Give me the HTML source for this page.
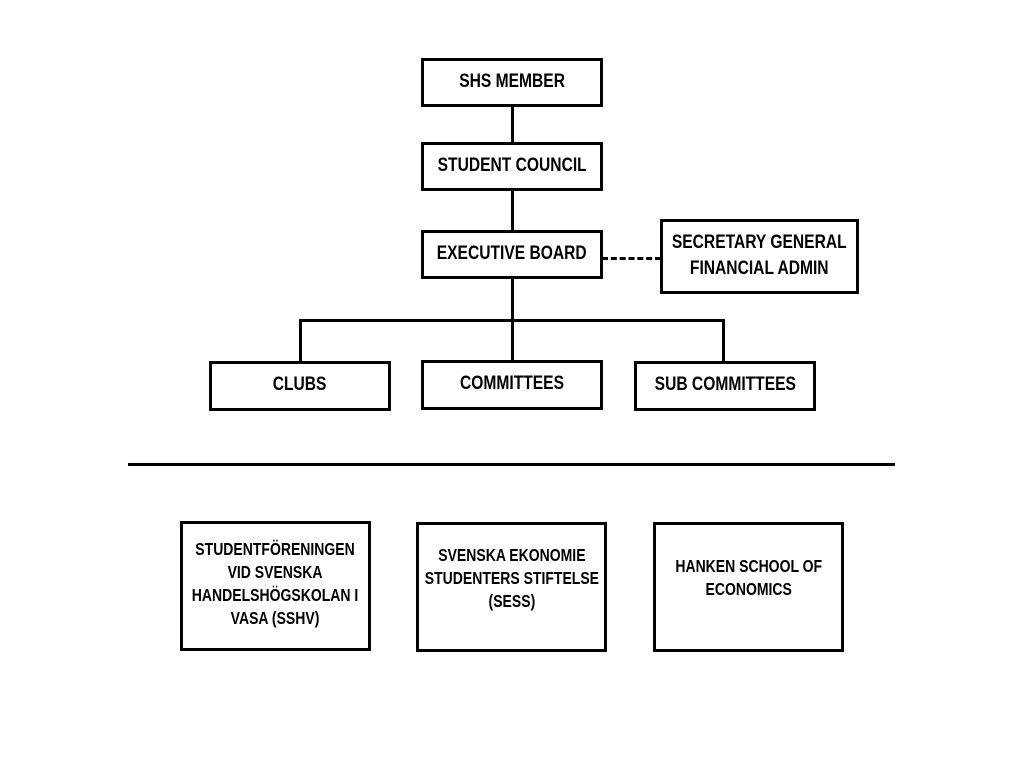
<!DOCTYPE html>
<html><head><meta charset="utf-8"><style>
body{margin:0;background:#fff;width:1024px;height:768px;position:relative;overflow:hidden;font-family:"Liberation Sans",sans-serif;font-weight:bold;color:#000}
.b{position:absolute;box-sizing:border-box;border:3px solid #000;background:#fff;display:flex;align-items:center;justify-content:center;text-align:center;font-size:19.5px;line-height:26px}
.b span{display:inline-block;white-space:nowrap;transform:translateY(-2px) scaleX(.8)}
.s{font-size:17.5px;line-height:23px}
.l{position:absolute;background:#000}
</style></head><body>
<div class="l" style="left:511px;top:106px;width:3px;height:124px"></div>
<div class="l" style="left:511px;top:278px;width:3px;height:82px"></div>
<div class="l" style="left:299px;top:319px;width:426px;height:3px"></div>
<div class="l" style="left:299px;top:319px;width:3px;height:42px"></div>
<div class="l" style="left:722px;top:319px;width:3px;height:42px"></div>
<div style="position:absolute;left:602px;top:257px;width:59px;border-top:3px dashed #000"></div>
<div class="l" style="left:128px;top:463px;width:767px;height:3px"></div>
<div class="b" style="left:421px;top:58px;width:182px;height:49px"><span>SHS MEMBER</span></div>
<div class="b" style="left:421px;top:142px;width:182px;height:49px"><span>STUDENT COUNCIL</span></div>
<div class="b" style="left:421px;top:230px;width:182px;height:49px"><span>EXECUTIVE BOARD</span></div>
<div class="b" style="left:660px;top:219px;width:199px;height:75px"><span>SECRETARY GENERAL<br>FINANCIAL ADMIN</span></div>
<div class="b" style="left:209px;top:361px;width:182px;height:50px"><span>CLUBS</span></div>
<div class="b" style="left:421px;top:360px;width:182px;height:50px"><span>COMMITTEES</span></div>
<div class="b" style="left:634px;top:361px;width:182px;height:50px"><span>SUB COMMITTEES</span></div>
<div class="b s" style="left:180px;top:521px;width:191px;height:130px"><span>STUDENTFÖRENINGEN<br>VID SVENSKA<br>HANDELSHÖGSKOLAN I<br>VASA (SSHV)</span></div>
<div class="b s" style="left:416px;top:522px;width:191px;height:130px;padding-bottom:14px"><span>SVENSKA EKONOMIE<br>STUDENTERS STIFTELSE<br>(SESS)</span></div>
<div class="b s" style="left:653px;top:522px;width:191px;height:130px;padding-bottom:14px"><span>HANKEN SCHOOL OF<br>ECONOMICS</span></div>
</body></html>
